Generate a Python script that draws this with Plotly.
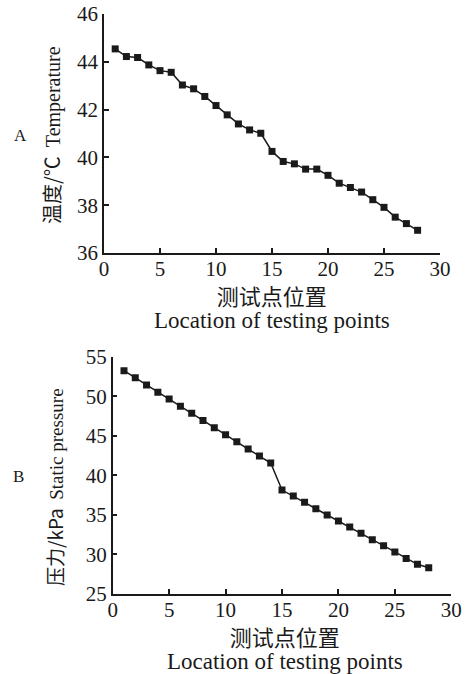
import plotly.graph_objects as go

points = list(range(1, 29))
temperature = [44.54, 44.22, 44.18, 43.87, 43.63, 43.56, 43.03, 42.87, 42.55, 42.17,
               41.78, 41.40, 41.15, 41.01, 40.25, 39.83, 39.73, 39.51, 39.51, 39.25,
               38.92, 38.74, 38.55, 38.23, 37.91, 37.50, 37.23, 36.95]
pressure = [53.23, 52.35, 51.42, 50.49, 49.65, 48.72, 47.84, 46.95, 46.02, 45.14,
            44.25, 43.33, 42.44, 41.56, 38.14, 37.39, 36.59, 35.78, 34.98, 34.22,
            33.47, 32.67, 31.87, 31.11, 30.31, 29.50, 28.75, 28.33]
x_ticks = [0, 5, 10, 15, 20, 25, 30]
temp_ticks = [36, 38, 40, 42, 44, 46]
pres_ticks = [25, 30, 35, 40, 45, 50, 55]

W, H = 470, 674
SERIF = "Liberation Serif, Times New Roman, serif"
CJK = "Noto Sans CJK SC"

fig = go.Figure()
line = dict(color="#1a1a1a", width=1.5)
marker = dict(symbol="square", size=7, color="#1a1a1a")
fig.add_trace(go.Scatter(x=points, y=temperature, mode="lines+markers", line=line,
                         marker=marker, xaxis="x", yaxis="y", showlegend=False))
fig.add_trace(go.Scatter(x=points, y=pressure, mode="lines+markers", line=line,
                         marker=marker, xaxis="x2", yaxis="y2", showlegend=False))

axis_common = dict(showgrid=False, zeroline=False, showline=True, linecolor="#1a1a1a",
                   linewidth=1.5, ticks="inside", ticklen=5, tickwidth=1.5, automargin=False,
                   tickcolor="#1a1a1a", tickfont=dict(family=SERIF, size=21, color="#1a1a1a"))

def px_x(a, b):
    return [a / W, b / W]

def px_y(top, bottom):
    return [1 - bottom / H, 1 - top / H]

fig.update_layout(
    template="none",
    width=W, height=H, margin=dict(l=0, r=0, t=0, b=0, pad=0),
    paper_bgcolor="white", plot_bgcolor="white",
    xaxis=dict(domain=px_x(104, 440), range=[0, 30], tickvals=x_ticks, anchor="y",
               ticklabelstandoff=-4, **axis_common),
    yaxis=dict(domain=px_y(14, 253), range=[36, 46], tickvals=temp_ticks, anchor="x", **axis_common),
    xaxis2=dict(domain=px_x(112.7, 451.3), range=[0, 30], tickvals=x_ticks, anchor="y2",
                ticklabelstandoff=-4, **axis_common),
    yaxis2=dict(domain=px_y(356.7, 594), range=[25, 55], tickvals=pres_ticks, anchor="x2", **axis_common),
)

def ann(text, x, y, size, family, angle=0):
    fig.add_annotation(text=text, x=x / W, y=1 - y / H, xref="paper", yref="paper",
                       showarrow=False, textangle=angle, xanchor="center", yanchor="middle",
                       borderpad=0, font=dict(family=family, size=size, color="#1a1a1a"))

ann("A", 20, 136, 17, SERIF)
ann("B", 18, 476, 17, SERIF)
ann("温度/℃  <span style='font-family:Liberation Serif'>Temperature</span>", 52, 135, 20, CJK, -90)
ann("压力/kPa  <span style='font-family:Liberation Serif'>Static pressure</span>", 54, 487, 19, CJK, -90)

xtitle = ("<span style='font-family:Noto Sans CJK SC;font-size:22px'>测试点位置</span><br>"
          "<span style='font-size:23px'>Location of testing points</span>")
ann(xtitle, 272, 306, 18, SERIF)
ann(xtitle, 285, 647, 18, SERIF)

fig.write_html("out.html", config={"displayModeBar": False},
               post_script="document.body.style.margin='0';")
